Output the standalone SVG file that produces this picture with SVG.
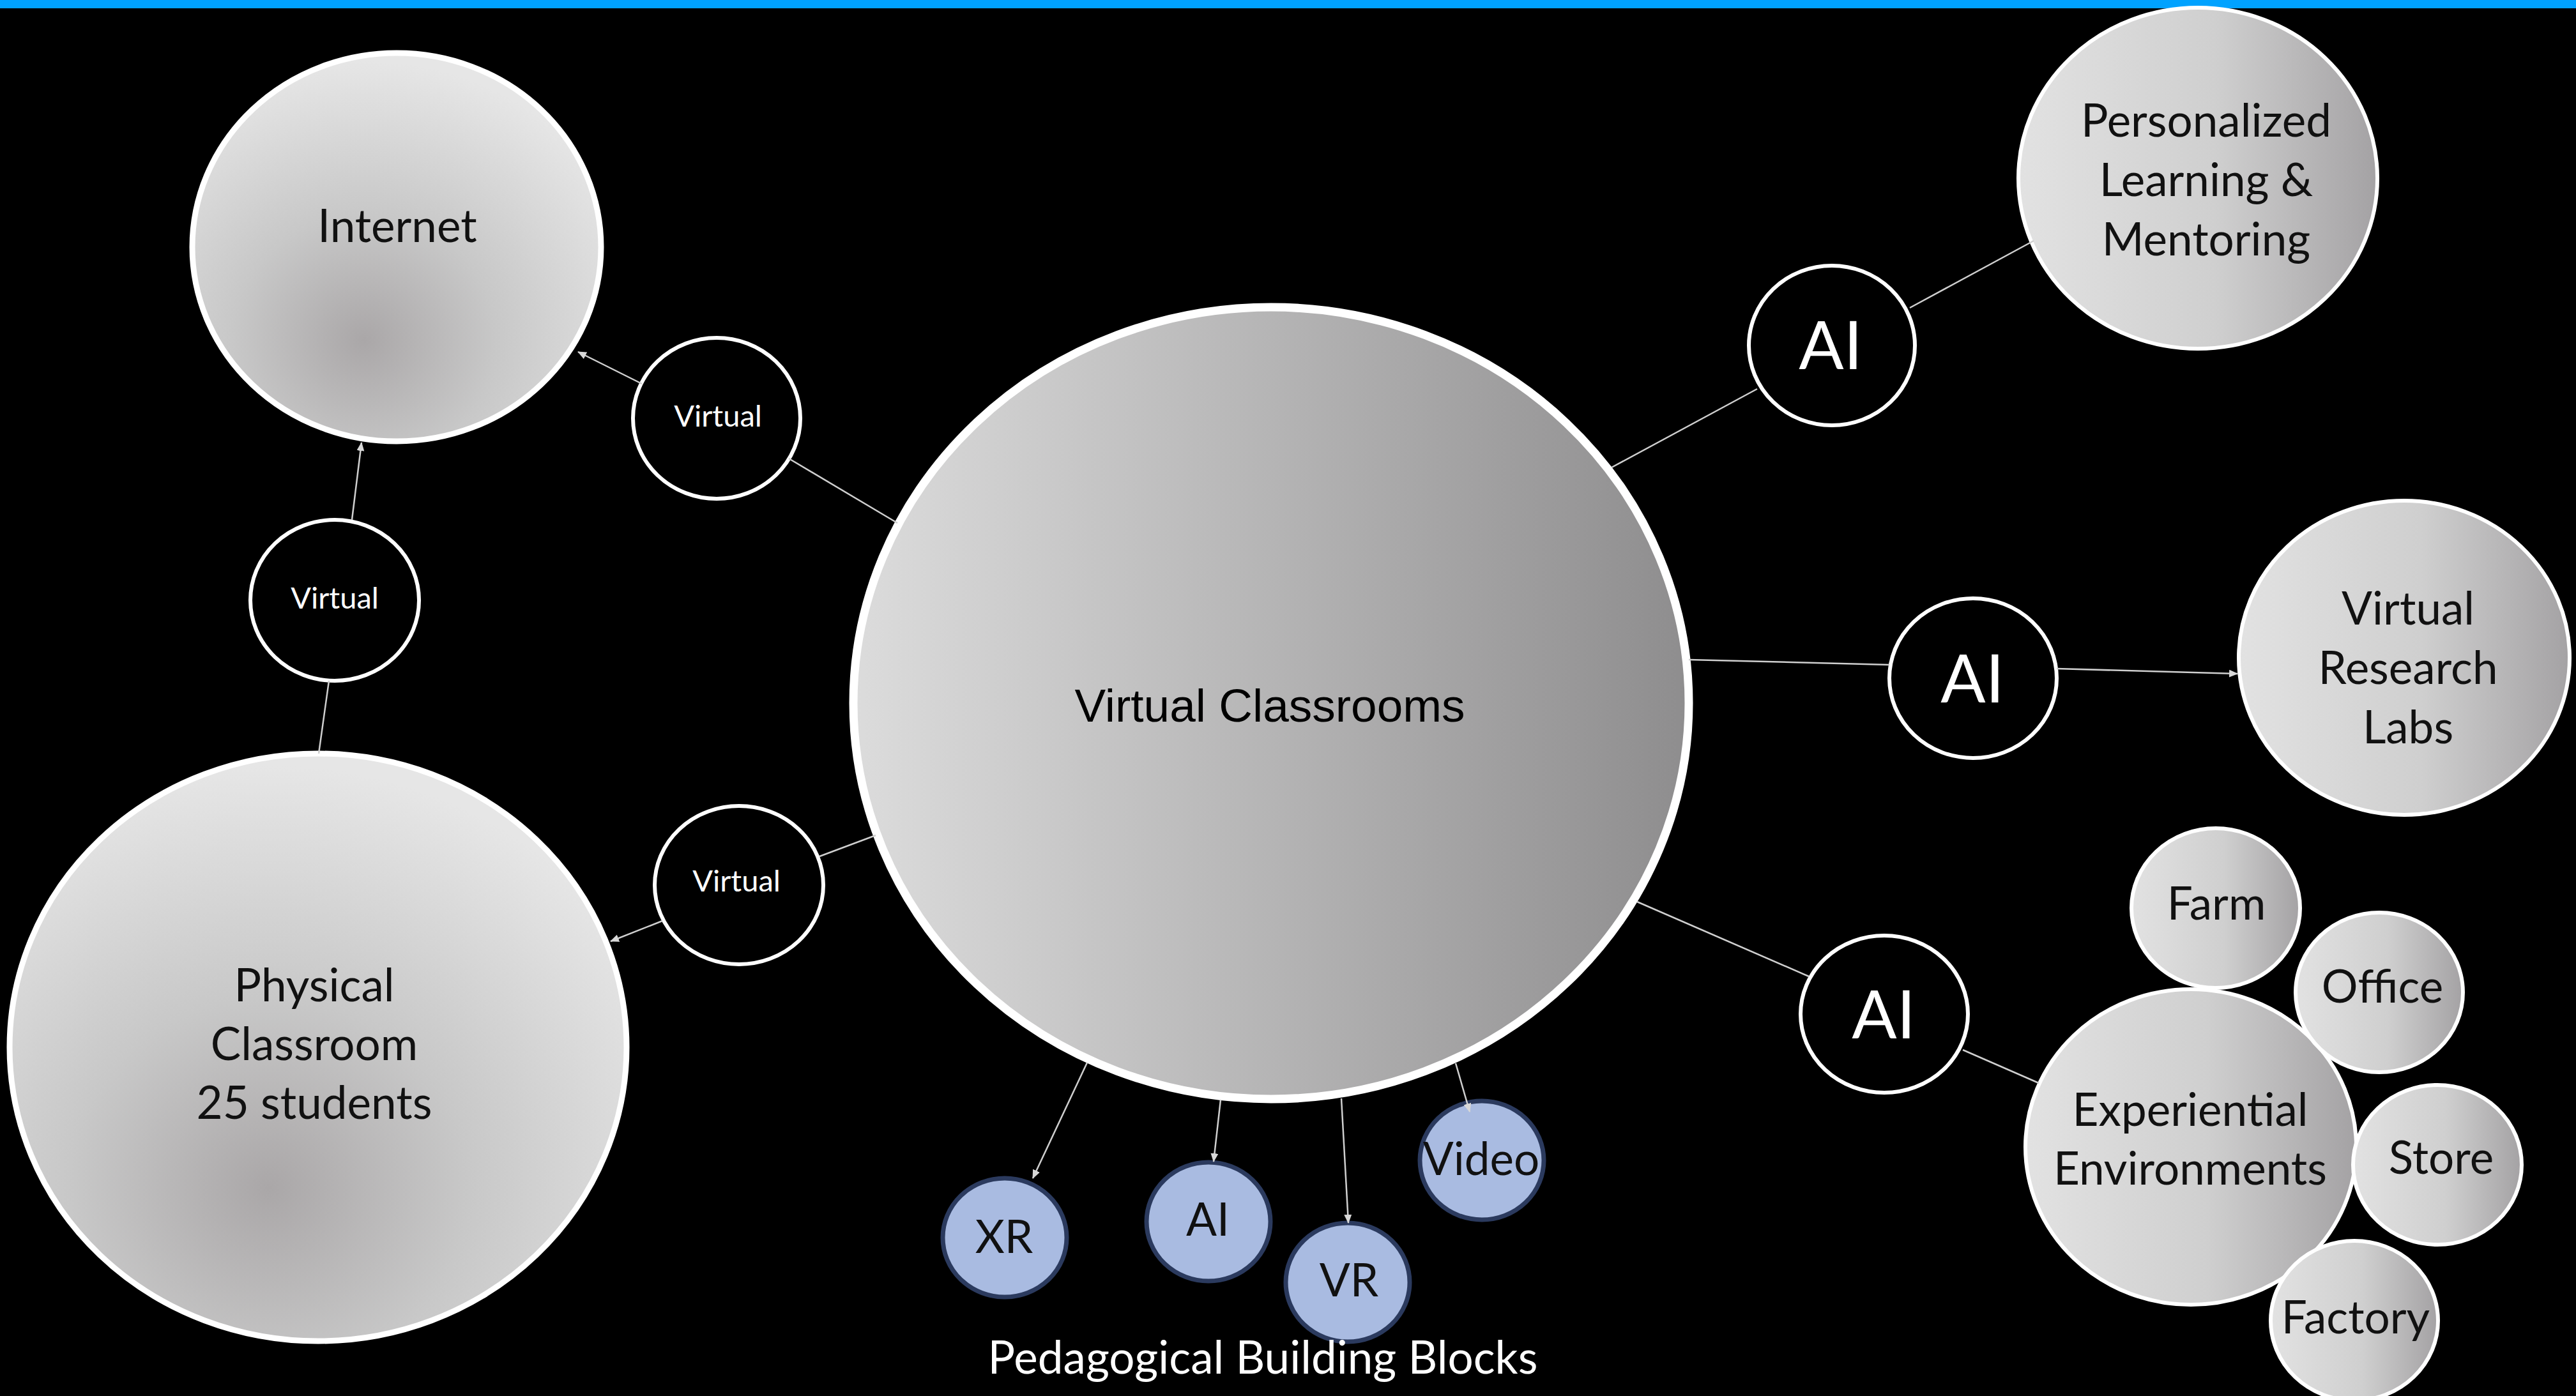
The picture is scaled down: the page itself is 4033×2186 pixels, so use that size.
<svg xmlns="http://www.w3.org/2000/svg" width="4033" height="2186" viewBox="0 0 4033 2186">
  <defs>
    <linearGradient id="gHub" x1="0" y1="0" x2="1" y2="0">
      <stop offset="0" stop-color="#dcdcdc"/>
      <stop offset="1" stop-color="#8e8d8e"/>
    </linearGradient>
    <linearGradient id="gSide" x1="0" y1="0" x2="1" y2="0">
      <stop offset="0" stop-color="#e2e2e2"/>
      <stop offset="0.55" stop-color="#cfcfcf"/>
      <stop offset="1" stop-color="#a4a2a4"/>
    </linearGradient>
    <radialGradient id="gShade" cx="0.42" cy="0.74" r="0.72" fx="0.42" fy="0.74">
      <stop offset="0" stop-color="#aaa7a8"/>
      <stop offset="0.45" stop-color="#c8c8c8"/>
      <stop offset="1" stop-color="#e6e6e6"/>
    </radialGradient>
    <marker id="arrow" markerUnits="userSpaceOnUse" markerWidth="14" markerHeight="12" refX="13" refY="6" orient="auto">
      <path d="M0,0 L14,6 L0,12 z" fill="#d8d8d8"/>
    </marker>
  </defs>
  <style>
    .hub { fill: url(#gHub); stroke: #ffffff; stroke-width: 13; }
    .side { fill: url(#gSide); stroke: #ffffff; stroke-width: 6; }
    .shade { fill: url(#gShade); stroke: #ffffff; stroke-width: 9; }
    .ring { fill: #000000; stroke: #ffffff; stroke-width: 6; }
    .block { fill: #a9bbe1; stroke: #2b3a5e; stroke-width: 7; }
    .lbl { font-family: Lato, "Open Sans", sans-serif; font-size: 71px; fill: #111111; text-anchor: middle; }
    .small { font-family: Lato, "Open Sans", sans-serif; font-size: 47px; fill: #ffffff; text-anchor: middle; }
    .ai { font-family: Lato, "Open Sans", sans-serif; font-size: 104px; fill: #ffffff; text-anchor: middle; }
    .hubtxt { font-family: "Liberation Sans", Arial, sans-serif; font-size: 73px; fill: #000000; text-anchor: middle; }
    .cap { font-family: Lato, "Open Sans", sans-serif; font-size: 71px; fill: #ffffff; text-anchor: middle; }
    .link { stroke: #cfcfcf; stroke-width: 2.5; fill: none; }
  </style>

  <rect x="0" y="0" width="4033" height="2186" fill="#000000"/>
  <rect x="0" y="0" width="4033" height="13" fill="#00a2ff"/>

  <g id="internet">
    <ellipse class="shade" cx="621" cy="387" rx="320" ry="304"/>
    <text class="lbl" x="622" y="379">Internet</text>
  </g>

  <g id="physical-classroom">
    <ellipse class="shade" cx="498" cy="1640" rx="483" ry="460"/>
    <text class="lbl" x="492" y="1568">Physical</text>
    <text class="lbl" x="492" y="1660">Classroom</text>
    <text class="lbl" x="492" y="1752">25 students</text>
  </g>

  <g id="virtual-top">
    <ellipse class="ring" cx="1122" cy="655" rx="131" ry="126"/>
    <text class="small" x="1124" y="668">Virtual</text>
  </g>
  <g id="virtual-left">
    <ellipse class="ring" cx="524" cy="940" rx="132" ry="126"/>
    <text class="small" x="524" y="953">Virtual</text>
  </g>
  <g id="virtual-bottom">
    <ellipse class="ring" cx="1157" cy="1386" rx="132" ry="124"/>
    <text class="small" x="1153" y="1396">Virtual</text>
  </g>

  <g id="virtual-classrooms">
    <ellipse class="hub" cx="1990" cy="1101" rx="654" ry="620"/>
    <text class="hubtxt" x="1988" y="1130">Virtual Classrooms</text>
  </g>

  <g id="ai-mentoring">
    <ellipse class="ring" cx="2868" cy="541" rx="130" ry="125"/>
    <text class="ai" x="2866" y="578">AI</text>
  </g>
  <g id="personalized-learning">
    <ellipse class="side" cx="3441" cy="279" rx="281" ry="267"/>
    <text class="lbl" x="3454" y="214">Personalized</text>
    <text class="lbl" x="3454" y="307">Learning &amp;</text>
    <text class="lbl" x="3454" y="400">Mentoring</text>
  </g>

  <g id="ai-labs">
    <ellipse class="ring" cx="3089" cy="1062" rx="131" ry="125"/>
    <text class="ai" x="3088" y="1100">AI</text>
  </g>
  <g id="research-labs">
    <ellipse class="side" cx="3764" cy="1030" rx="259" ry="246"/>
    <text class="lbl" x="3770" y="978">Virtual</text>
    <text class="lbl" x="3770" y="1071">Research</text>
    <text class="lbl" x="3770" y="1164">Labs</text>
  </g>

  <g id="ai-environments">
    <ellipse class="ring" cx="2950" cy="1588" rx="131" ry="123"/>
    <text class="ai" x="2949" y="1626">AI</text>
  </g>
  <g id="experiential-environments">
    <ellipse class="side" cx="3430" cy="1796" rx="259" ry="247"/>
    <text class="lbl" x="3429" y="1763">Experiential</text>
    <text class="lbl" x="3429" y="1855">Environments</text>
  </g>
  <g id="farm">
    <ellipse class="side" cx="3469" cy="1422" rx="132" ry="125"/>
    <text class="lbl" x="3470" y="1440">Farm</text>
  </g>
  <g id="office">
    <ellipse class="side" cx="3725" cy="1554" rx="131" ry="125"/>
    <text class="lbl" x="3730" y="1570">Office</text>
  </g>
  <g id="store">
    <ellipse class="side" cx="3816" cy="1824" rx="132" ry="125"/>
    <text class="lbl" x="3822" y="1838">Store</text>
  </g>
  <g id="factory">
    <ellipse class="side" cx="3686" cy="2068" rx="131" ry="125"/>
    <text class="lbl" x="3688" y="2088">Factory</text>
  </g>

  <g id="block-xr">
    <ellipse class="block" cx="1573" cy="1938" rx="97" ry="93"/>
    <text class="lbl" x="1572" y="1962">XR</text>
  </g>
  <g id="block-ai">
    <ellipse class="block" cx="1892" cy="1913" rx="97" ry="93"/>
    <text class="lbl" x="1891" y="1935">AI</text>
  </g>
  <g id="block-vr">
    <ellipse class="block" cx="2110" cy="2008" rx="97" ry="93"/>
    <text class="lbl" x="2112" y="2030">VR</text>
  </g>
  <g id="block-video">
    <ellipse class="block" cx="2320" cy="1817" rx="97" ry="93"/>
    <text class="lbl" x="2319" y="1840">Video</text>
  </g>
  <text class="cap" x="1977" y="2151">Pedagogical Building Blocks</text>

  <g id="connectors">
    <line class="link" x1="1005" y1="601" x2="905" y2="551" marker-end="url(#arrow)"/>
    <line class="link" x1="1405" y1="819" x2="1235" y2="718"/>
    <line class="link" x1="551" y1="814" x2="566" y2="693" marker-end="url(#arrow)"/>
    <line class="link" x1="515" y1="1066" x2="499" y2="1180"/>
    <line class="link" x1="1371" y1="1308" x2="1283" y2="1341"/>
    <line class="link" x1="1037" y1="1442" x2="956" y2="1474" marker-end="url(#arrow)"/>
    <line class="link" x1="2523" y1="732" x2="2751" y2="609"/>
    <line class="link" x1="2990" y1="482" x2="3184" y2="377"/>
    <line class="link" x1="2644" y1="1033" x2="2958" y2="1041"/>
    <line class="link" x1="3220" y1="1047" x2="3503" y2="1055" marker-end="url(#arrow)"/>
    <line class="link" x1="2563" y1="1412" x2="2832" y2="1529"/>
    <line class="link" x1="3073" y1="1644" x2="3192" y2="1696"/>
    <line class="link" x1="1702" y1="1664" x2="1617" y2="1845" marker-end="url(#arrow)"/>
    <line class="link" x1="1911" y1="1722" x2="1900" y2="1819" marker-end="url(#arrow)"/>
    <line class="link" x1="2100" y1="1720" x2="2111" y2="1915" marker-end="url(#arrow)"/>
    <line class="link" x1="2279" y1="1665" x2="2301" y2="1741" marker-end="url(#arrow)"/>
  </g>
</svg>
